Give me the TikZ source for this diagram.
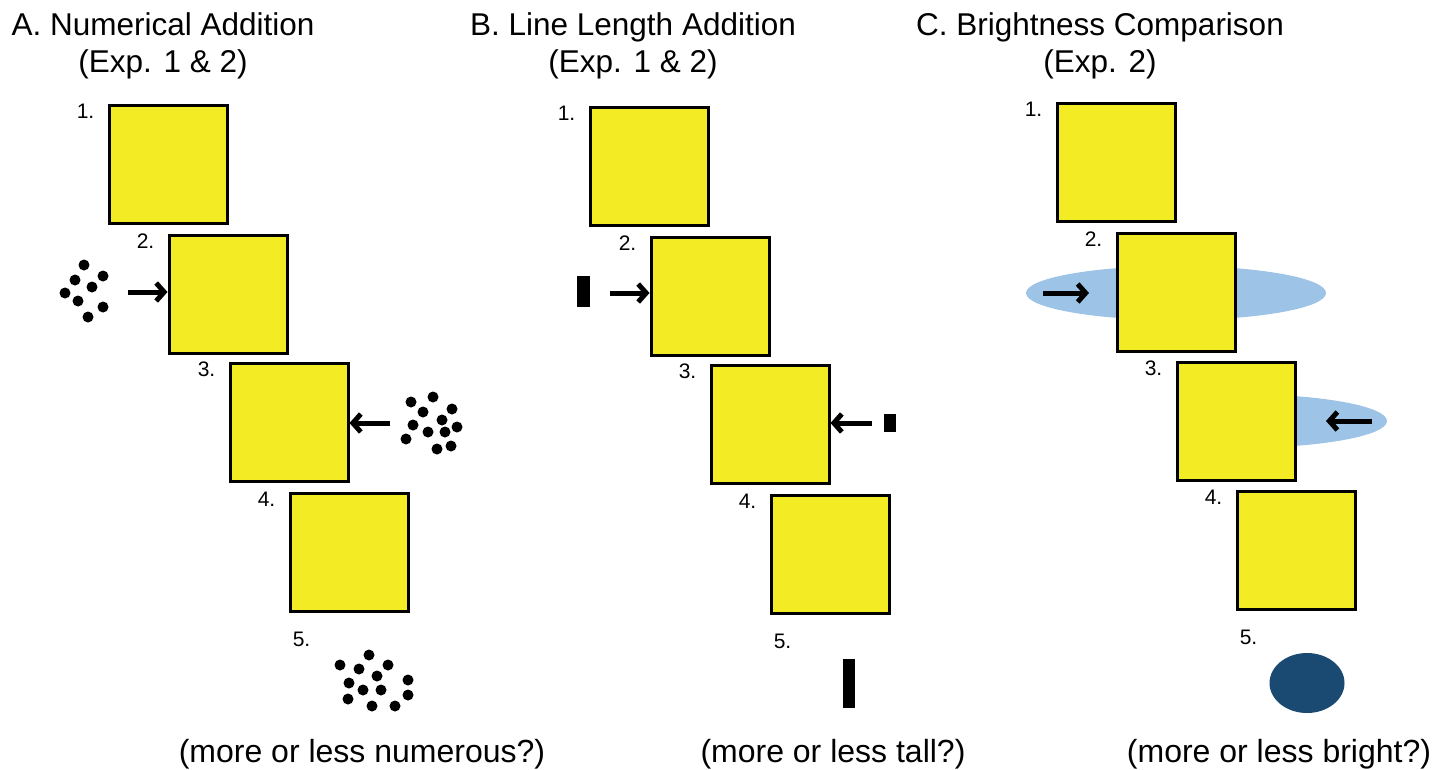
\documentclass[tikz,border=0pt]{standalone}
\usepackage{fontspec}
\setmainfont{Liberation Sans}
\usetikzlibrary{arrows.meta,calc}
\definecolor{boxyellow}{RGB}{243,235,36}
\definecolor{lightblue}{RGB}{157,195,230}
\definecolor{darkblue}{RGB}{26,74,114}

\begin{document}
\begin{tikzpicture}[x=1pt, y=-1pt,
    box/.style={draw, line width=3pt, fill=boxyellow, minimum size=118pt, inner sep=0pt},
    num/.style={font=\fontsize{21}{24}\selectfont, inner sep=0pt},
    title/.style={anchor=base, font=\fontsize{31.5}{36}\selectfont, inner sep=0pt},
    arr/.style={line width=5pt, -{Straight Barb[length=8pt,width=18pt]}},
    bar/.style={fill=black}]
    \useasboundingbox (0,0) rectangle (1455,769);

    % titles
    \node[title, name=ta] at (163,35) {A. Numerical Addition};
    \node[title, name=sa] at (163,72) {(Exp. 1 \& 2)};
    \node[title, name=tb] at (633,35) {B. Line Length Addition};
    \node[title, name=sb] at (633,72) {(Exp. 1 \& 2)};
    \node[title, name=tc] at (1100,35) {C. Brightness Comparison};
    \node[title, name=sc] at (1100,72) {(Exp. 2)};

    % brightness ellipses (behind the boxes)
    \fill[lightblue] (1176,293) ellipse [x radius=150pt, y radius=27pt];
    \begin{scope}
        \clip (1176,380) rectangle (1400,460);
        \fill[lightblue] (1237,421) ellipse [x radius=150pt, y radius=27pt];
    \end{scope}

    % boxes
    \node[box, name=a1] at (168,164) {};
    \node[box, name=a2] at (228,294) {};
    \node[box, name=a3] at (289,422) {};
    \node[box, name=a4] at (349,552) {};
    \node[box, name=b1] at (649,166) {};
    \node[box, name=b2] at (710,296) {};
    \node[box, name=b3] at (770,424) {};
    \node[box, name=b4] at (830,554) {};
    \node[box, name=c1] at (1116,162) {};
    \node[box, name=c2] at (1176,292) {};
    \node[box, name=c3] at (1236,421) {};
    \node[box, name=c4] at (1296,550) {};

    % step numbers
    \foreach \p in {a,b,c} {
        \node[num, anchor=base east] at ($(\p1.north west)+(-13,15)$) {1.};
        \node[num, anchor=base east] at ($(\p2.north west)+(-13,15)$) {2.};
        \node[num, anchor=base east] at ($(\p3.north west)+(-13,15)$) {3.};
        \node[num, anchor=base east] at ($(\p4.north west)+(-13,15)$) {4.};
        \node[num, anchor=base east] at ($(\p4.south west)+(22,34)$) {5.};
    }

    % A: dot arrays
    \foreach \x/\y in {84/265, 75/280, 103/276, 92/287, 65/293, 78/301, 103/307, 88/317}
        \fill (\x,\y) circle [radius=5.5pt];
    \foreach \x/\y in {411/402, 433/397, 423/412, 452/409, 442/420, 413/425,
                       428/432, 457/427, 445/432, 406/439, 437/449, 451/446}
        \fill (\x,\y) circle [radius=5.5pt];
    \foreach \x/\y in {369/655, 340/665, 359/669, 388/665, 377/676, 349/683, 408/680,
                       363/690, 381/690, 408/695, 348/699, 372/706, 395/706}
        \fill (\x,\y) circle [radius=5.5pt];
    \coordinate (pa2) at (128,292);
    \coordinate (pa3) at (390,423);
    \draw[arr] (pa2) -- (pa2 -| a2.west);
    \draw[arr] (pa3) -- (pa3 -| a3.east);

    % B: line lengths
    \fill[bar] (577,276) rectangle (590,307);
    \fill[bar] (884,414) rectangle (896,432);
    \fill[bar] (843,659) rectangle (855,708);
    \coordinate (pb2) at (610,293);
    \coordinate (pb3) at (872,423);
    \draw[arr] (pb2) -- (pb2 -| b2.west);
    \draw[arr] (pb3) -- (pb3 -| b3.east);

    % C: brightness
    \coordinate (pc2s) at (1043,293);
    \coordinate (pc2e) at (1089,293);
    \coordinate (pc3s) at (1372,421);
    \coordinate (pc3e) at (1326,421);
    \draw[arr] (pc2s) -- (pc2e);
    \draw[arr] (pc3s) -- (pc3e);
    \fill[darkblue] (1307,683) ellipse [x radius=37.5pt, y radius=30pt];

    % questions
    \node[title, font=\fontsize{32}{36}\selectfont, name=qa] at (362,762) {(more or less numerous?)};
    \node[title, font=\fontsize{32}{36}\selectfont, name=qb] at (833,762) {(more or less tall?)};
    \node[title, font=\fontsize{32}{36}\selectfont, name=qc] at (1279,762) {(more or less bright?)};
\end{tikzpicture}
\end{document}
